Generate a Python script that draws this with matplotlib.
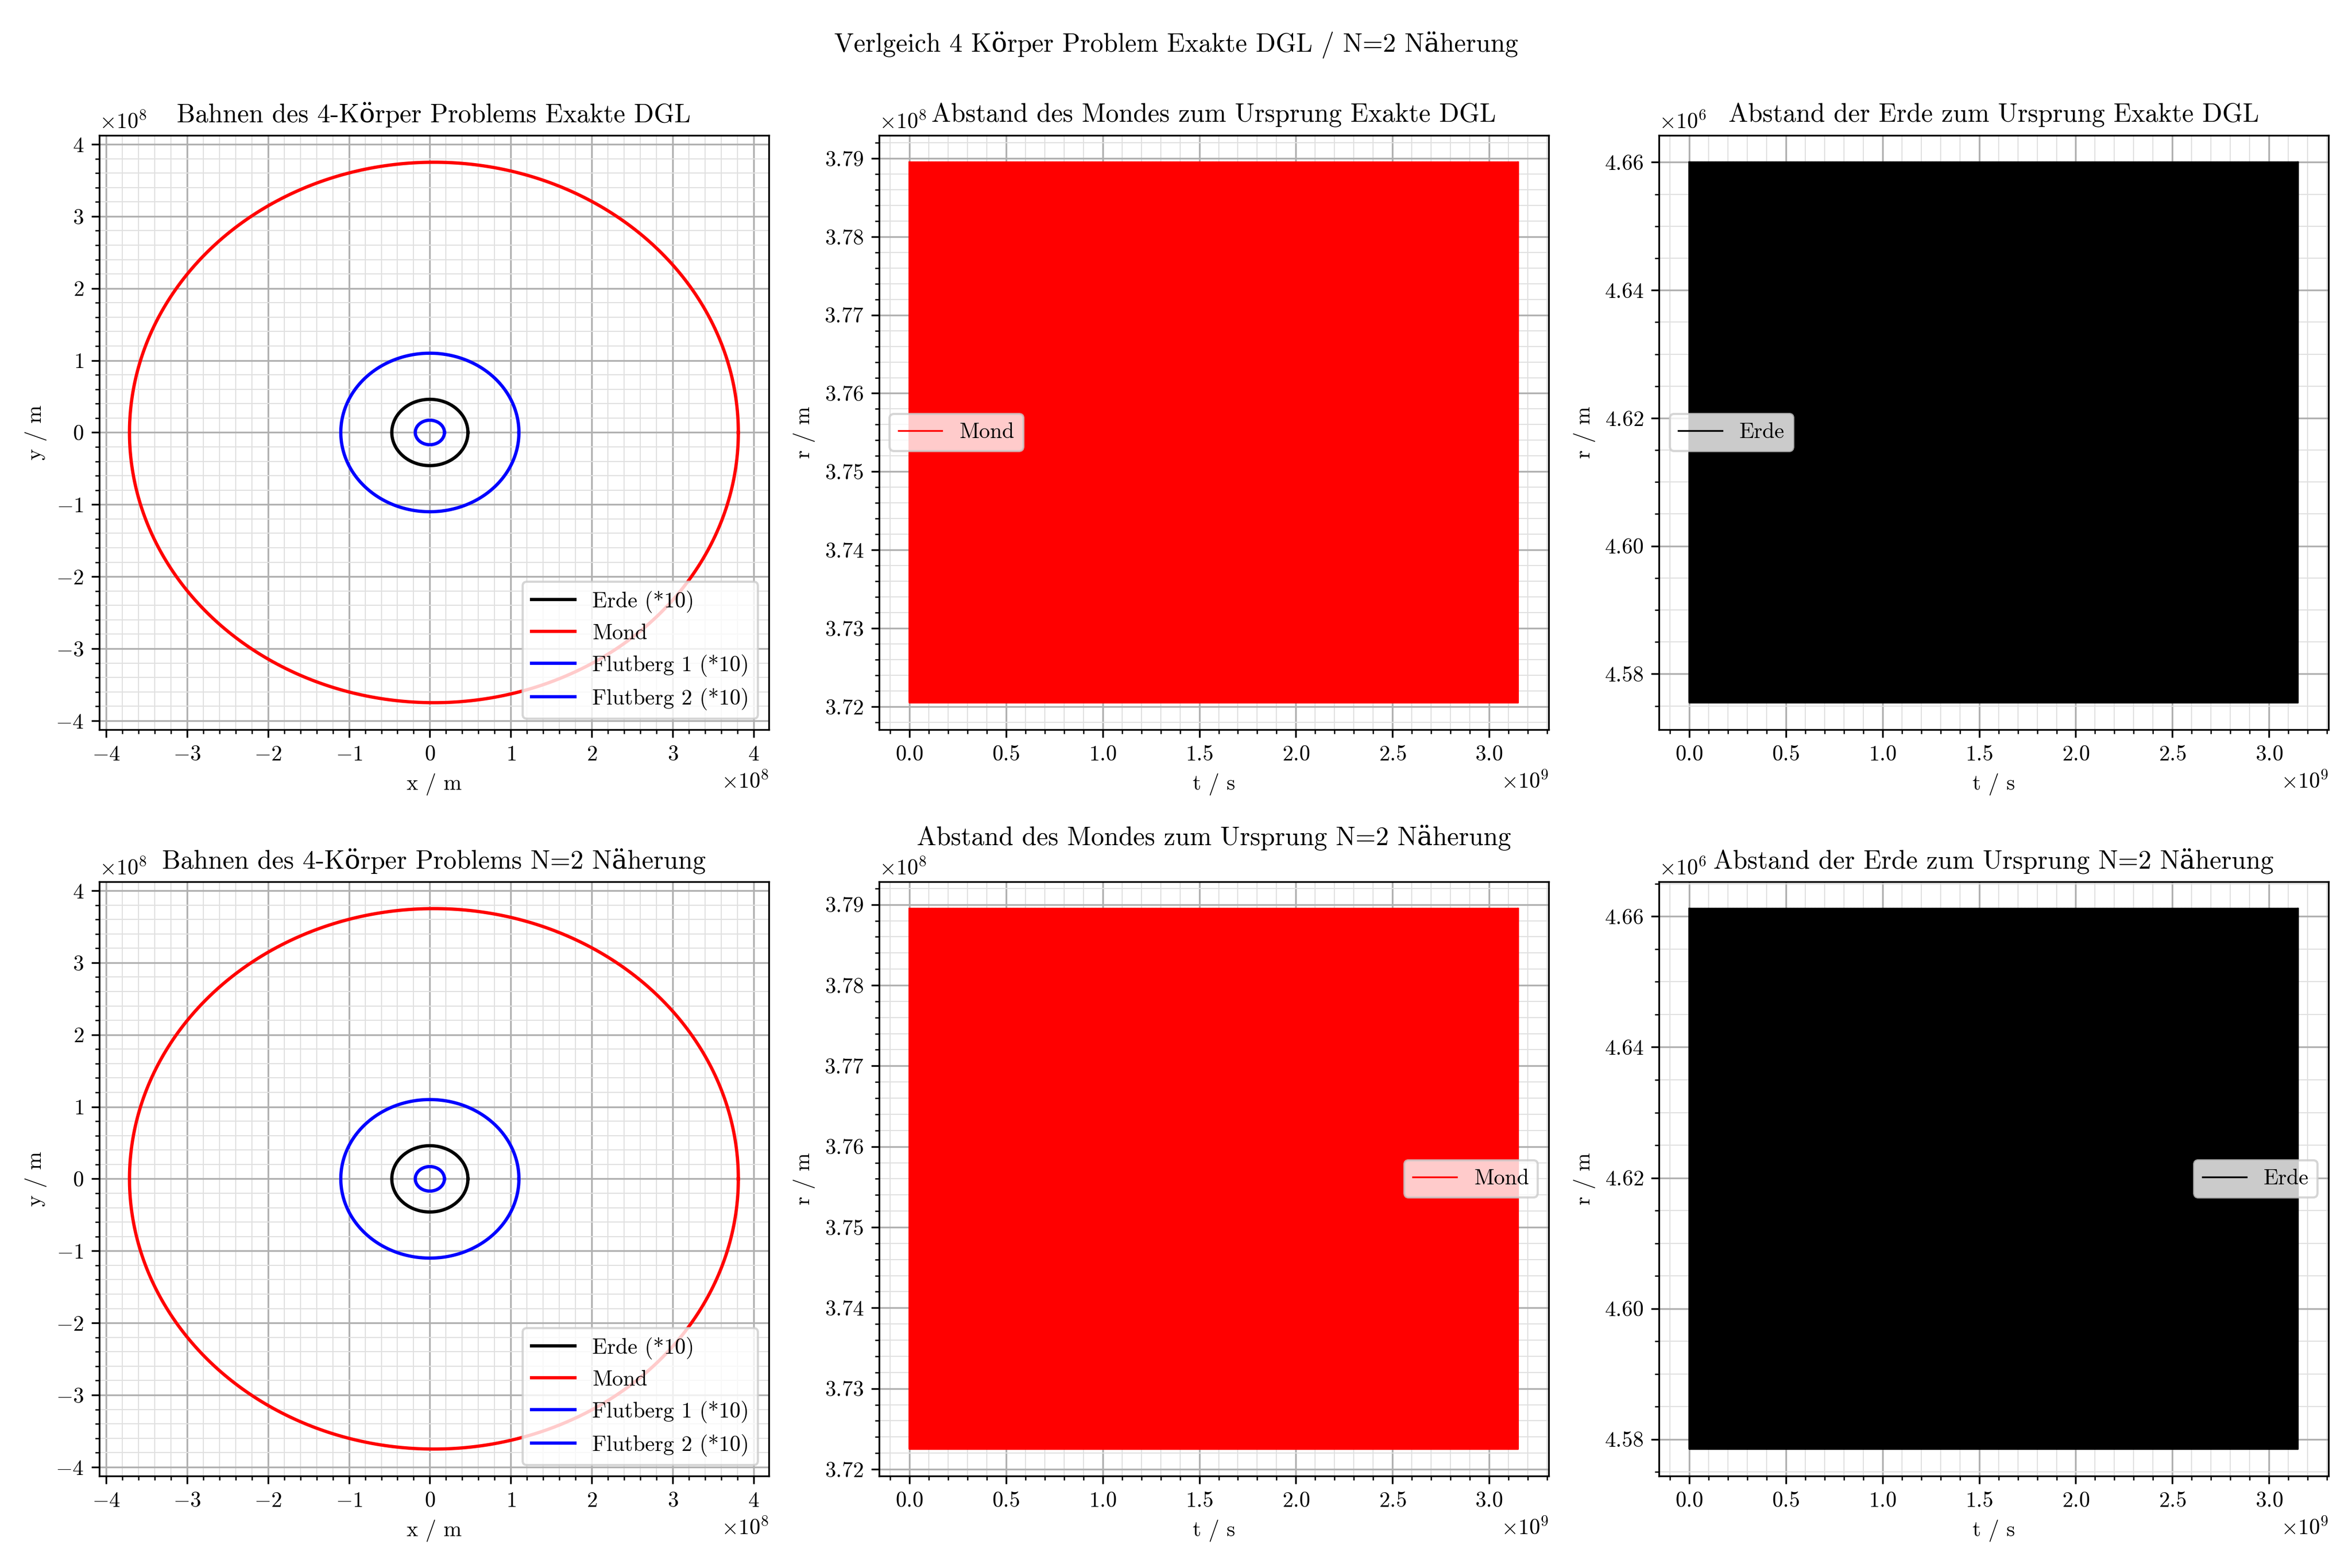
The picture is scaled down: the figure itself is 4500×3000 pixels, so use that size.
import matplotlib as mpl
mpl.use("Agg")
import matplotlib.pyplot as plt
import numpy as np

plt.rcParams['font.family'] = ['cmr10', 'DejaVu Serif']
plt.rcParams['mathtext.fontset'] = 'cm'
plt.rcParams['axes.formatter.use_mathtext'] = True
plt.rcParams['axes.unicode_minus'] = True

# orbit radii (x, y) in m, already scaled as in the legend
orbit_names = ["Erde (*10)", "Mond", "Flutberg 1 (*10)", "Flutberg 2 (*10)"]
orbit_colors = ["black", "red", "blue", "blue"]
orbit_rx = [0.47e8, 3.76e8, 1.1e8, 0.18e8]
orbit_ry = [0.46e8, 3.75e8, 1.1e8, 0.17e8]
orbit_cx = [0.0, 0.05e8, 0.0, 0.0]

t_end = 3.15e9
n_cycles = 1336
moon_range = {"Exakte DGL": (3.7205e8, 3.7895e8), "N=2 Näherung": (3.7225e8, 3.7895e8)}
earth_range = {"Exakte DGL": (4.5755e6, 4.6600e6), "N=2 Näherung": (4.5785e6, 4.6612e6)}
moon_loc = {"Exakte DGL": "center left", "N=2 Näherung": "center right"}

fig, axes = plt.subplots(2, 3, figsize=(15, 10))
fig.suptitle("Verlgeich 4 Körper Problem Exakte DGL / N=2 Näherung")

phi = np.linspace(0, 2 * np.pi, 400)
t = np.linspace(0, t_end, 2 * n_cycles + 1)

for row, key in enumerate(["Exakte DGL", "N=2 Näherung"]):
    ax = axes[row, 0]
    for name, c, rx, ry, cx in zip(orbit_names, orbit_colors, orbit_rx, orbit_ry, orbit_cx):
        ax.plot(cx + rx * np.cos(phi), ry * np.sin(phi), color=c, label=name)
    ax.set_title("Bahnen des 4-Körper Problems " + key)
    ax.set_xlabel("x / m")
    ax.set_ylabel("y / m")
    ax.legend(loc="lower right")

    for col, (rng, c, lab, name) in enumerate([(moon_range, "red", "Mond", "des Mondes"),
                                               (earth_range, "black", "Erde", "der Erde")]):
        ax = axes[row, col + 1]
        lo, hi = rng[key]
        r = np.where(np.arange(len(t)) % 2 == 0, hi, lo)
        ax.plot(t, r, color=c, lw=0.8, label=lab)
        ax.fill_between(t, lo, hi, color=c, lw=0)
        ax.set_title("Abstand " + name + " zum Ursprung " + key)
        ax.set_xlabel("t / s")
        ax.set_ylabel("r / m")
        ax.legend(loc=moon_loc[key])

for ax in axes.flat:
    ax.minorticks_on()
    ax.grid(which="major", color="#b0b0b0", lw=0.8)
    ax.grid(which="minor", color="#e0e0e0", lw=0.5)
    ax.tick_params(which="both", direction="out")

fig.tight_layout()
fig.savefig("out.png", dpi=300)
